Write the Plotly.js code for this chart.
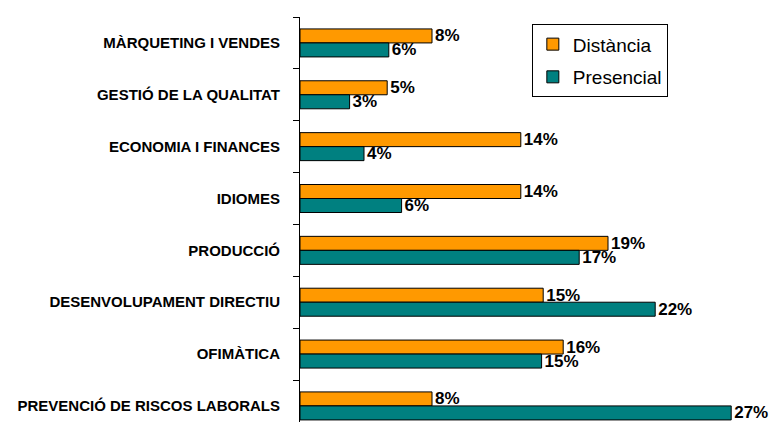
<!DOCTYPE html>
<html>
<head>
<meta charset="utf-8">
<script src="https://cdn.plot.ly/plotly-3.0.1.min.js"></script>
<style>html,body{margin:0;padding:0;background:#fff;}#chart{width:775px;height:422px;}</style>
</head>
<body>
<div id="chart"></div>
<script>
var categories = ["MÀRQUETING I VENDES", "GESTIÓ DE LA QUALITAT", "ECONOMIA I FINANCES", "IDIOMES", "PRODUCCIÓ", "DESENVOLUPAMENT DIRECTIU", "OFIMÀTICA", "PREVENCIÓ DE RISCOS LABORALS"];
var distancia = [8.25, 5.45, 13.8, 13.8, 19.25, 15.2, 16.45, 8.25];
var presencial = [5.55, 3.1, 4.0, 6.35, 17.45, 22.2, 15.1, 26.95];
var seriesNames = ["Distància", "Presencial"];

var labelFont = {family: "Liberation Sans, Arial, sans-serif", size: 17, color: "#000", weight: 700};

var traces = [
  {
    type: "bar", orientation: "h", name: seriesNames[0], legendgroup: "a",
    y: categories, x: distancia,
    marker: {color: "#FF9900", line: {color: "#000", width: 1}},
    texttemplate: "%{x:.0f}%", textposition: "outside", textfont: labelFont,
    constraintext: "none", cliponaxis: false, hoverinfo: "skip"
  },
  {
    type: "bar", orientation: "h", name: seriesNames[1], legendgroup: "b",
    y: categories, x: presencial,
    marker: {color: "#008080", line: {color: "#000", width: 1}},
    texttemplate: "%{x:.0f}%", textposition: "outside", textfont: labelFont,
    constraintext: "none", cliponaxis: false, hoverinfo: "skip"
  }
];

var layout = {
  width: 775, height: 422,
  margin: {l: 300, r: 15, t: 17, b: 0, pad: 0},
  paper_bgcolor: "#fff", plot_bgcolor: "#fff",
  barmode: "group", bargap: 0.46, bargroupgap: 0,
  showlegend: true,
  legend: {
    x: 0.504, y: 0.982, xanchor: "left", yanchor: "top",
    bordercolor: "#000", borderwidth: 1, bgcolor: "#fff",
    font: {family: "Liberation Sans, Arial, sans-serif", size: 19, color: "#000"},
    traceorder: "grouped", tracegroupgap: 5
  },
  xaxis: {visible: false, range: [0, 28.75], fixedrange: true},
  yaxis: {
    type: "category", range: [7.31, -0.5],
    showline: true, linecolor: "#000", linewidth: 1,
    ticks: "outside", tickson: "boundaries", ticklen: 6, tickcolor: "#000", tickwidth: 1,
    showgrid: false, zeroline: false,
    ticklabelstandoff: 16,
    tickfont: {family: "Liberation Sans, Arial, sans-serif", size: 15, color: "#000", weight: 700},
    fixedrange: true
  }
};

Plotly.newPlot("chart", traces, layout, {staticPlot: true, displayModeBar: false});
</script>
</body>
</html>
